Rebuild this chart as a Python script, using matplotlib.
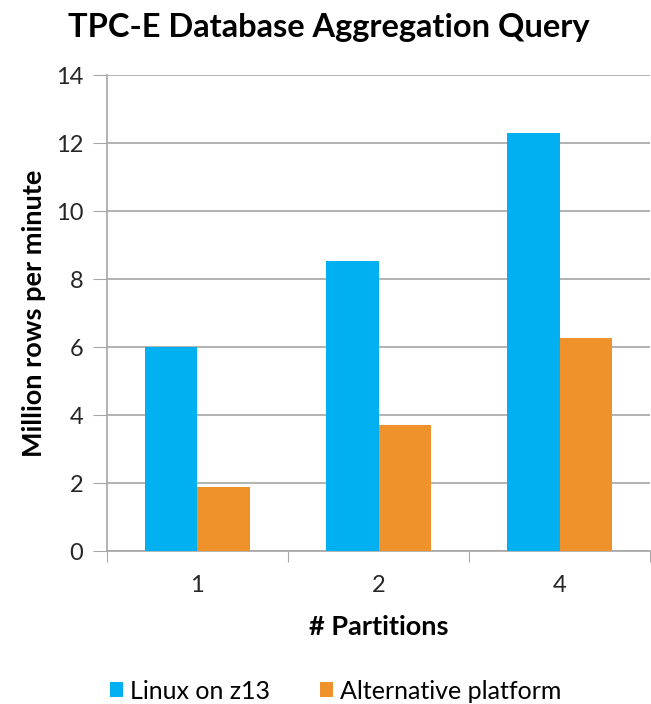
import matplotlib.pyplot as plt
import numpy as np

plt.rcParams['font.family'] = ['Lato', 'DejaVu Sans']

partitions = ['1', '2', '4']
linux_z13 = [6.0, 8.55, 12.3]
alt_platform = [1.9, 3.7, 6.27]
y_ticks = [0, 2, 4, 6, 8, 10, 12, 14]

grey = '#a6a6a6'
fig = plt.figure(figsize=(6.51, 7.04), dpi=100)
ax = fig.add_axes([0.164, 0.217, 0.835, 0.676])

x = np.arange(len(partitions))
w = 0.29
ax.bar(x - w / 2, linux_z13, w, color='#00B0F0', label='Linux on z13', zorder=3)
ax.bar(x + w / 2, alt_platform, w, color='#F0922B', label='Alternative platform', zorder=3)

ax.set_xlim(-0.5, len(partitions) - 0.5)
ax.set_ylim(0, 14)
ax.set_yticks(y_ticks)
ax.tick_params(axis='y', length=10, color=grey, labelsize=17, pad=7, labelcolor='#262626')
ax.grid(axis='y', color=grey, linewidth=1.2, zorder=0)

# category boundaries get the tick marks, labels sit in the middle
ax.set_xticks(np.arange(len(partitions) + 1) - 0.5)
ax.set_xticklabels([])
ax.set_xticks(x, minor=True)
ax.set_xticklabels(partitions, minor=True, fontsize=17, color='#262626')
ax.tick_params(axis='x', which='major', length=8, color=grey)
ax.tick_params(axis='x', which='minor', length=0, pad=17)

for side in ['top', 'right']:
    ax.spines[side].set_visible(False)
for side in ['left', 'bottom']:
    ax.spines[side].set_color(grey)
    ax.spines[side].set_linewidth(1.2)

ax.set_ylabel('Million rows per minute', fontsize=19.5, fontweight='bold', labelpad=7)
ax.set_xlabel('# Partitions', fontsize=19.5, fontweight='bold', labelpad=14)
fig.suptitle('TPC-E Database Aggregation Query', fontsize=23.5, fontweight='bold',
             x=0.505, y=0.982)

fig.legend(loc='lower center', bbox_to_anchor=(0.515, -0.03), ncol=2, frameon=False,
           fontsize=18, handlelength=0.55, handleheight=0.55, handletextpad=0.25,
           columnspacing=2.0)

fig.savefig('out.png', dpi=100)
